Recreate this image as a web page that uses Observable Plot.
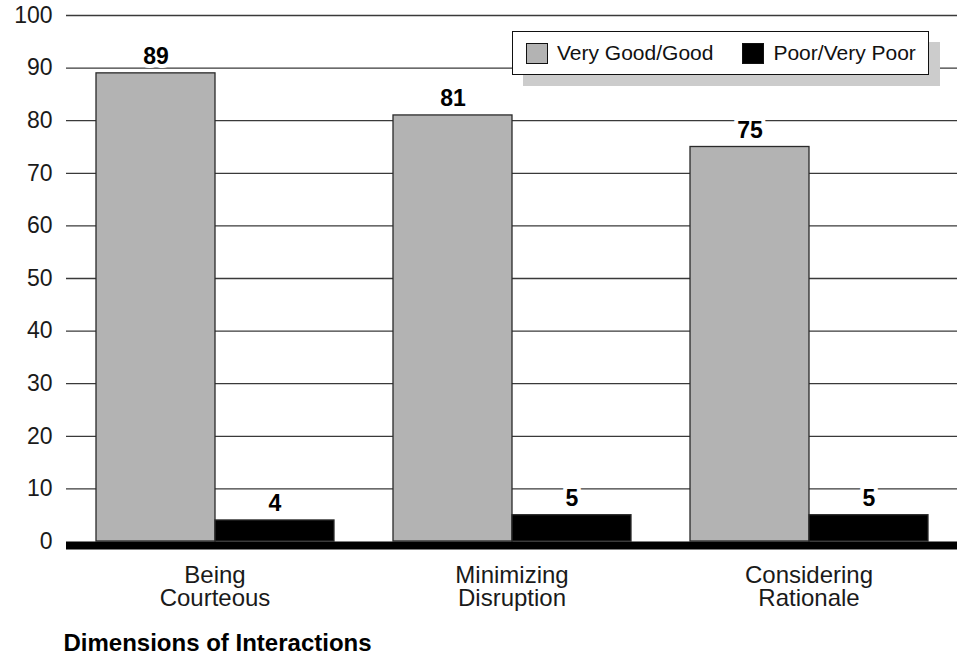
<!DOCTYPE html>
<html>
<head>
<meta charset="utf-8">
<script src="https://cdn.jsdelivr.net/npm/d3@7"></script>
<script src="https://cdn.jsdelivr.net/npm/@observablehq/plot@0.6"></script>
<style>
  html, body { margin: 0; padding: 0; background: #fff; }
  #wrap { position: relative; width: 964px; height: 655px; overflow: hidden; font-family: "Liberation Sans", Arial, Helvetica, sans-serif; }
  #legend { position: absolute; left: 512px; top: 31px; width: 415px; height: 42px; background: #fff; border: 1.5px solid #111; box-shadow: 11px 11px 0 #cccccc; display: flex; align-items: center; font-size: 21px; color: #111; }
  .sw { display: inline-block; width: 20px; height: 19px; border: 1.2px solid #111; margin-left: 13px; margin-right: 9px; }
  .item { display: flex; align-items: center; }
</style>
</head>
<body>
<div id="wrap"></div>
<script>
const categories = ["Being Courteous", "Minimizing Disruption", "Considering Rationale"];
const categoryLabels = ["Being\nCourteous", "Minimizing\nDisruption", "Considering\nRationale"];
const series = ["Very Good/Good", "Poor/Very Poor"];
const veryGoodGood = [89, 81, 75];
const poorVeryPoor = [4, 5, 5];
const yTicks = [0, 10, 20, 30, 40, 50, 60, 70, 80, 90, 100];
const seriesColors = ["#b3b3b3", "#000000"];
const xTitle = "Dimensions of Interactions";

const data = categories.flatMap((c, i) => [
  {category: c, series: series[0], value: veryGoodGood[i]},
  {category: c, series: series[1], value: poorVeryPoor[i]}
]);
const labelOf = new Map(categories.map((c, i) => [c, categoryLabels[i]]));

const chart = Plot.plot({
  width: 964,
  height: 655,
  marginLeft: 65,
  marginRight: 6,
  marginTop: 15,
  marginBottom: 114,
  style: {fontFamily: "'Liberation Sans', Arial, Helvetica, sans-serif", fontSize: "23px", color: "#1a1a1a", background: "transparent"},
  fx: {domain: categories, padding: 0, axis: null},
  x: {domain: series, paddingInner: 0, paddingOuter: 0.24, axis: null},
  y: {domain: [0, 100], ticks: yTicks, tickSize: 0, tickPadding: 14, label: null, line: false},
  color: {domain: series, range: seriesColors},
  marks: [
    Plot.ruleY(yTicks.filter(t => t > 0), {stroke: "#3a3a3a", strokeWidth: 1.3}),
    Plot.barY(data, {fx: "category", x: "series", y: "value", fill: "series", stroke: "#2a2a2a", strokeWidth: 1.3, inset: 0}),
    Plot.ruleY([0], {stroke: "#000", strokeWidth: 8, dy: 4}),
    Plot.text(data, {fx: "category", x: "series", y: "value", text: d => String(d.value), lineAnchor: "bottom", dy: -9, fontWeight: "bold", fontSize: 23, fill: "#000", stroke: "#fff", strokeWidth: 8, paintOrder: "stroke"}),
    Plot.text(categories, {fx: d => d, text: d => labelOf.get(d), frameAnchor: "bottom", lineAnchor: "top", dy: 26, fontSize: 24, fill: "#1a1a1a", lineHeight: 0.93}),
    Plot.text([xTitle], {fx: () => categories[0], text: d => d, frameAnchor: "bottom-left", textAnchor: "start", lineAnchor: "bottom", dx: -3, dy: 109, fontWeight: "bold", fontSize: 24, fill: "#000"})
  ]
});

const wrap = document.getElementById("wrap");
wrap.appendChild(chart);

const legend = document.createElement("div");
legend.id = "legend";
series.forEach((s, i) => {
  const item = document.createElement("span");
  item.className = "item";
  const sw = document.createElement("span");
  sw.className = "sw";
  sw.style.background = seriesColors[i];
  if (i === 1) sw.style.marginLeft = "29px";
  const t = document.createElement("span");
  t.textContent = s;
  item.appendChild(sw);
  item.appendChild(t);
  legend.appendChild(item);
});
wrap.appendChild(legend);
</script>
</body>
</html>
